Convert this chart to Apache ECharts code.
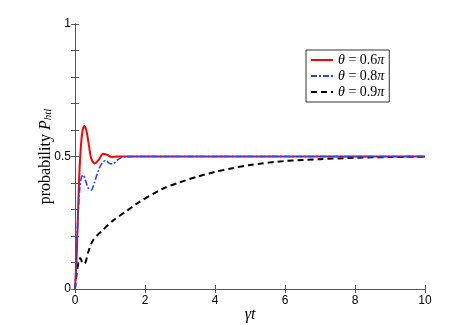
<!DOCTYPE html>
<html>
<head>
<meta charset="utf-8">
<script src="https://cdn.jsdelivr.net/npm/echarts@6/dist/echarts.min.js"></script>
<style>
  html, body { margin: 0; padding: 0; background: #fff; }
  #chart { width: 469px; height: 325px; }
</style>
</head>
<body>
<div id="chart"></div>
<script>
// theta = 0.6 pi
var red06 = [[0,0],[0.04,0.1],[0.08,0.26],[0.12,0.42],[0.17,0.54],[0.22,0.6],[0.27,0.615],[0.33,0.595],[0.4,0.54],[0.47,0.49],[0.57,0.474],[0.68,0.488],[0.8,0.51],[0.92,0.506],[1.05,0.498],[1.2,0.5],[2,0.5],[10,0.5]];
// theta = 0.8 pi
var blue08 = [[0,0],[0.04,0.12],[0.08,0.26],[0.13,0.37],[0.18,0.42],[0.23,0.43],[0.3,0.41],[0.38,0.38],[0.46,0.373],[0.55,0.4],[0.65,0.44],[0.77,0.475],[0.88,0.485],[0.98,0.474],[1.08,0.472],[1.2,0.486],[1.4,0.499],[2,0.5],[10,0.5]];
// theta = 0.9 pi
var black09 = [[0,0],[0.05,0.06],[0.1,0.1],[0.15,0.117],[0.21,0.1],[0.27,0.095],[0.38,0.14],[0.52,0.185],[0.8,0.223],[1.1,0.26],[1.45,0.292],[1.8,0.325],[2.5,0.378],[3,0.403],[3.5,0.424],[4,0.442],[4.5,0.456],[5,0.468],[6,0.483],[7,0.49],[8,0.495],[9,0.498],[10,0.499]];
var seriesNames = ['θ = 0.6π', 'θ = 0.8π', 'θ = 0.9π'];
var xTicks = [0, 2, 4, 6, 8, 10];
var yLabels = [0, 0.5, 1];

var chart = echarts.init(document.getElementById('chart'));
var axisCol = '#555';
var tickFont = { color: '#000', fontFamily: 'Liberation Sans', fontSize: 12 };
var serif = 'Liberation Serif';

var option = {
  animation: false,
  grid: { left: 75, right: 44, top: 24, bottom: 36, outerBoundsMode: 'none', containLabel: false },
  legend: {
    left: 306, top: 50,
    orient: 'vertical',
    itemWidth: 22, itemHeight: 10, itemGap: 2,
    padding: [3, 5, 3, 4],
    borderColor: '#333', borderWidth: 1,
    backgroundColor: '#fff',
    itemStyle: { opacity: 0, borderWidth: 0 },
    formatter: function (name) {
      var num = name.replace('θ = ', '').replace('π', '');
      return '{i|θ}{r| = ' + num + '}{i|π}';
    },
    textStyle: {
      color: '#000',
      rich: {
        i: { fontFamily: serif, fontSize: 14, fontStyle: 'italic', color: '#000', lineHeight: 15 },
        r: { fontFamily: serif, fontSize: 14, color: '#000', lineHeight: 15 }
      }
    },
    data: seriesNames
  },
  xAxis: [{
    type: 'value', min: 0, max: 10, interval: 2,
    name: 'γt', nameLocation: 'middle', nameGap: 18, nameMoveOverlap: false,
    nameTextStyle: { fontFamily: serif, fontSize: 16, fontStyle: 'italic', color: '#000' },
    axisLine: { lineStyle: { color: axisCol } },
    axisTick: { inside: true, length: 4, lineStyle: { color: axisCol } },
    axisLabel: Object.assign({ margin: 6, formatter: function (v) { return xTicks.indexOf(v) >= 0 ? String(v) : ''; } }, tickFont),
    splitLine: { show: false }
  }, {
    type: 'value', min: 0, max: 10, interval: 2, position: 'top',
    axisLine: { lineStyle: { color: axisCol } },
    axisTick: { inside: true, length: 4, lineStyle: { color: axisCol } },
    axisLabel: { show: false }, splitLine: { show: false }
  }],
  yAxis: [{
    type: 'value', min: 0, max: 1, interval: 0.1,
    name: '{n|probability }{p|P}{s|htl}', nameLocation: 'middle', nameGap: 21, nameMoveOverlap: false,
    nameTextStyle: {
      rich: {
        n: { fontFamily: serif, fontSize: 16, color: '#000' },
        p: { fontFamily: serif, fontSize: 16, fontStyle: 'italic', color: '#000' },
        s: { fontFamily: serif, fontSize: 11, fontStyle: 'italic', color: '#000', padding: [6, 0, 0, 0] }
      }
    },
    axisLine: { show: true, lineStyle: { color: axisCol } },
    axisTick: { show: true, inside: true, length: 4, lineStyle: { color: axisCol } },
    axisLabel: Object.assign({ margin: 4, formatter: function (v) {
      var r = Math.round(v * 10) / 10;
      return yLabels.indexOf(r) >= 0 ? String(r) : '';
    } }, tickFont),
    splitLine: { show: false }
  }, {
    type: 'value', min: 0, max: 1, interval: 0.1, position: 'right',
    axisLine: { show: true, lineStyle: { color: axisCol } },
    axisTick: { show: true, inside: true, length: 4, lineStyle: { color: axisCol } },
    axisLabel: { show: false }, splitLine: { show: false }
  }],
  series: [{
    name: seriesNames[0], type: 'line', data: red06, symbol: 'none', smooth: 0.3,
    itemStyle: { color: '#ff0000' },
    lineStyle: { color: '#ff0000', width: 2 }, z: 3
  }, {
    name: seriesNames[1], type: 'line', data: blue08, symbol: 'none', smooth: 0.3,
    itemStyle: { color: '#2244ff' },
    lineStyle: { color: '#2244ff', width: 1.6, type: [6, 2, 2, 2] }, z: 4
  }, {
    name: seriesNames[2], type: 'line', data: black09, symbol: 'none', smooth: 0.3,
    itemStyle: { color: '#000' },
    lineStyle: { color: '#000', width: 2, type: [6, 4] }, z: 2
  }]
};
chart.setOption(option);
</script>
</body>
</html>
